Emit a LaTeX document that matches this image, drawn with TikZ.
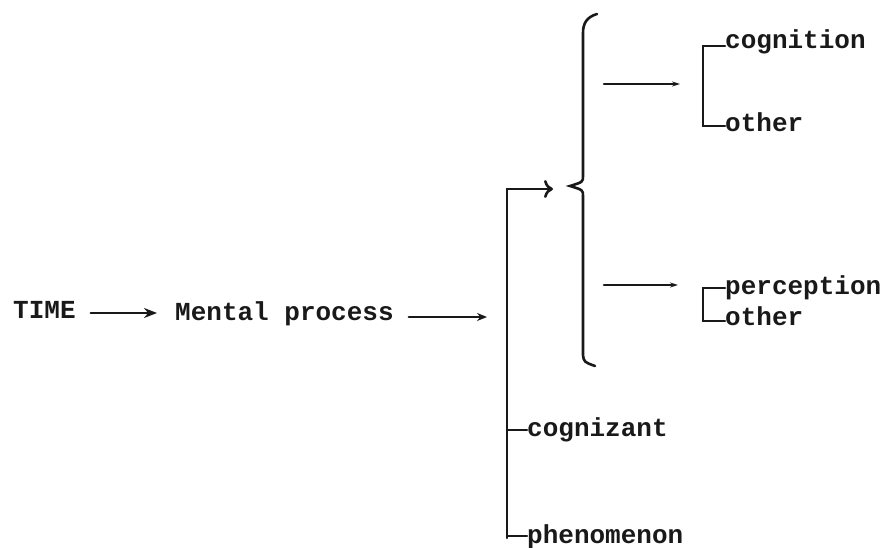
\documentclass[tikz,border=0pt]{standalone}
\usepackage{fontspec}
\setmonofont{Liberation Mono}
\usetikzlibrary{arrows.meta}
\begin{document}
\begin{tikzpicture}[x=1pt,y=-1pt,
  lbl/.style={anchor=base west,inner sep=0pt,text=black!90,font=\fontsize{26}{30}\selectfont\ttfamily\bfseries},
  ln/.style={line width=2.6pt,line cap=round,draw=black!90},
  arr/.style={ln,-{Stealth[length=13pt,width=10pt]}},
  mid arr/.style={ln,-{Stealth[length=10pt,width=8pt]}},
  thin arr/.style={ln,-{Stealth[length=8pt,width=5pt]}},
  open arr/.style={ln,-{To[length=9pt,width=18pt]}}]
\useasboundingbox (0,0) rectangle (885,548);
\node[lbl] (time) at (13,318) {TIME};
\node[lbl] (mental) at (175,320) {Mental process};
\coordinate (m2) at (487,317);
\draw[arr] (time.east|-0,313) ++(15,0) -- (157,313);
\draw[mid arr] (mental.east|-0,317) ++(15,0) -- (m2);
% left vertical
\coordinate (vtop) at (507,189);
\coordinate (vbot) at (507,538);
\coordinate (bpt) at (553,189);
\draw[ln] (vbot) -- (vtop);
\draw[open arr] (vtop) -- (bpt);
\node[lbl] (cogz) at (527,436) {cognizant};
\node[lbl] (phen) at (527,543) {phenomenon};
\draw[ln] (507,430) -- (cogz.base west|-0,430);
\draw[ln] (507,536) -- (phen.base west|-0,536);
% brace
\draw[ln] (597,14) .. controls (587,17) and (583,23) .. (583,33) -- (583,176)
  .. controls (583,182) .. (570,186) .. controls (583,190) .. (583,196)
  -- (583,355) .. controls (584,362) .. (595,366);
% upper
\node[lbl] (cogn) at (725,49) {cognition};
\node[lbl] (oth1) at (725,132) {other};
\draw[thin arr] (604,84) -- (680,84);
\draw[ln] (cogn.base west|-0,46) -- (703,46) -- (703,126) -- (oth1.base west|-0,126);
% lower
\node[lbl] (perc) at (725,294) {perception};
\node[lbl] (oth2) at (725,325) {other};
\draw[thin arr] (604,285) -- (678,285);
\draw[ln] (perc.base west|-0,288) -- (703,288) -- (703,321) -- (oth2.base west|-0,321);
\end{tikzpicture}
\end{document}
